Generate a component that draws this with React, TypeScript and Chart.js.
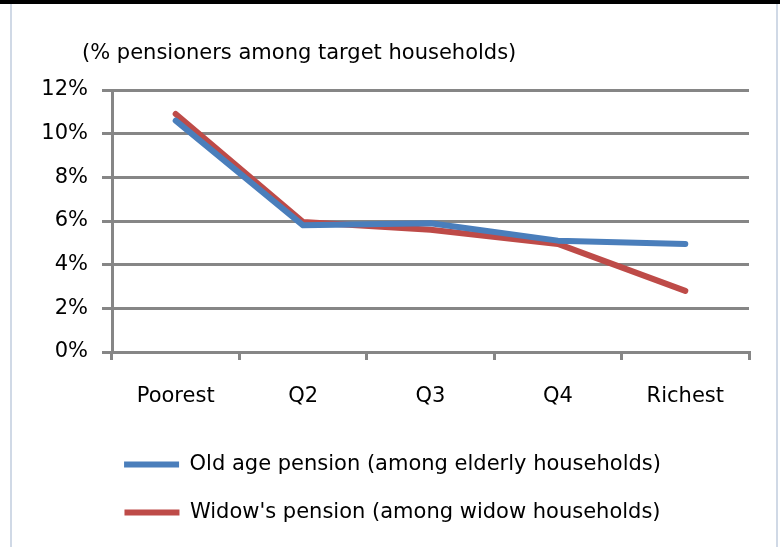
import React, { useEffect, useRef } from "react";
import { Chart, registerables } from "chart.js";

Chart.register(...registerables);

const categories = ["Poorest", "Q2", "Q3", "Q4", "Richest"];
const oldAgeLabel = "Old age pension (among elderly households)";
const oldAgeValues = [10.6, 5.8, 5.9, 5.1, 4.95];
const widowLabel = "Widow's pension (among widow households)";
const widowValues = [10.9, 5.95, 5.6, 4.95, 2.8];
const yTicks = [0, 2, 4, 6, 8, 10, 12];
const axisTitle = "(% pensioners among target households)";

const FONT = "'DejaVu Sans'";
const FS = 21;
const GRID = "#868686";

const titlePlugin = {
  id: "axisTitleText",
  afterDraw(chart: any) {
    const ctx = chart.ctx;
    ctx.save();
    ctx.font = `${FS}px ${FONT}`;
    ctx.fillStyle = "#000";
    ctx.textBaseline = "middle";
    ctx.textAlign = "left";
    ctx.fillText(axisTitle, 82, 54);
    ctx.restore();
  },
};

export default function App() {
  const ref = useRef<HTMLCanvasElement>(null);
  useEffect(() => {
    if (!ref.current) return;
    const chart = new Chart(ref.current, {
      type: "line",
      data: {
        labels: categories,
        datasets: [
          {
            label: oldAgeLabel,
            data: oldAgeValues,
            borderColor: "#4A7EBB",
            backgroundColor: "#4A7EBB",
            borderWidth: 6,
            pointRadius: 0,
            borderCapStyle: "round",
            borderJoinStyle: "round",
            tension: 0,
          },
          {
            label: widowLabel,
            data: widowValues,
            borderColor: "#BE4B48",
            backgroundColor: "#BE4B48",
            borderWidth: 6,
            pointRadius: 0,
            borderCapStyle: "round",
            borderJoinStyle: "round",
            tension: 0,
          },
        ],
      },
      options: {
        animation: false,
        responsive: false,
        maintainAspectRatio: false,
        layout: { padding: { left: 36, right: 31, top: 90, bottom: 14 } },
        plugins: {
          tooltip: { enabled: false },
          legend: {
            position: "bottom",
            labels: {
              font: { family: FONT, size: FS },
              color: "#000",
              usePointStyle: true,
              pointStyle: "line",
              pointStyleWidth: 55,
              boxHeight: 5,
              padding: 27,
            },
          },
        },
        scales: {
          x: {
            offset: true,
            afterFit: (s: any) => {
              s.height = 75;
            },
            grid: {
              offset: true,
              drawOnChartArea: false,
              drawTicks: true,
              tickLength: 8,
              color: GRID,
              lineWidth: 3,
            },
            border: { display: true, color: GRID, width: 3 },
            ticks: {
              font: { family: FONT, size: FS },
              color: "#000",
              padding: 24,
              maxRotation: 0,
            },
          },
          y: {
            min: 0,
            max: 12,
            afterFit: (s: any) => {
              s.width = 76;
            },
            afterBuildTicks: (s: any) => {
              s.ticks = yTicks.map((v) => ({ value: v }));
            },
            grid: {
              color: GRID,
              lineWidth: 3,
              tickLength: 10,
            },
            border: { display: true, color: GRID, width: 3 },
            ticks: {
              font: { family: FONT, size: FS },
              color: "#000",
              padding: 14,
              callback: (v: any) => `${v}%`,
            },
          },
        },
      },
      plugins: [titlePlugin],
    });
    return () => chart.destroy();
  }, []);

  return (
    <div style={{ position: "absolute", left: 0, top: 0, width: 780, height: 547, background: "#fff" }}>
      <div style={{ position: "absolute", left: 0, top: 0, width: 780, height: 4, background: "#000" }} />
      <div style={{ position: "absolute", left: 10, top: 4, width: 2, height: 543, background: "#D0D9E6" }} />
      <div style={{ position: "absolute", left: 776, top: 4, width: 2, height: 543, background: "#D0D9E6" }} />
      <canvas ref={ref} width={780} height={547} style={{ position: "absolute", left: 0, top: 0 }} />
    </div>
  );
}
